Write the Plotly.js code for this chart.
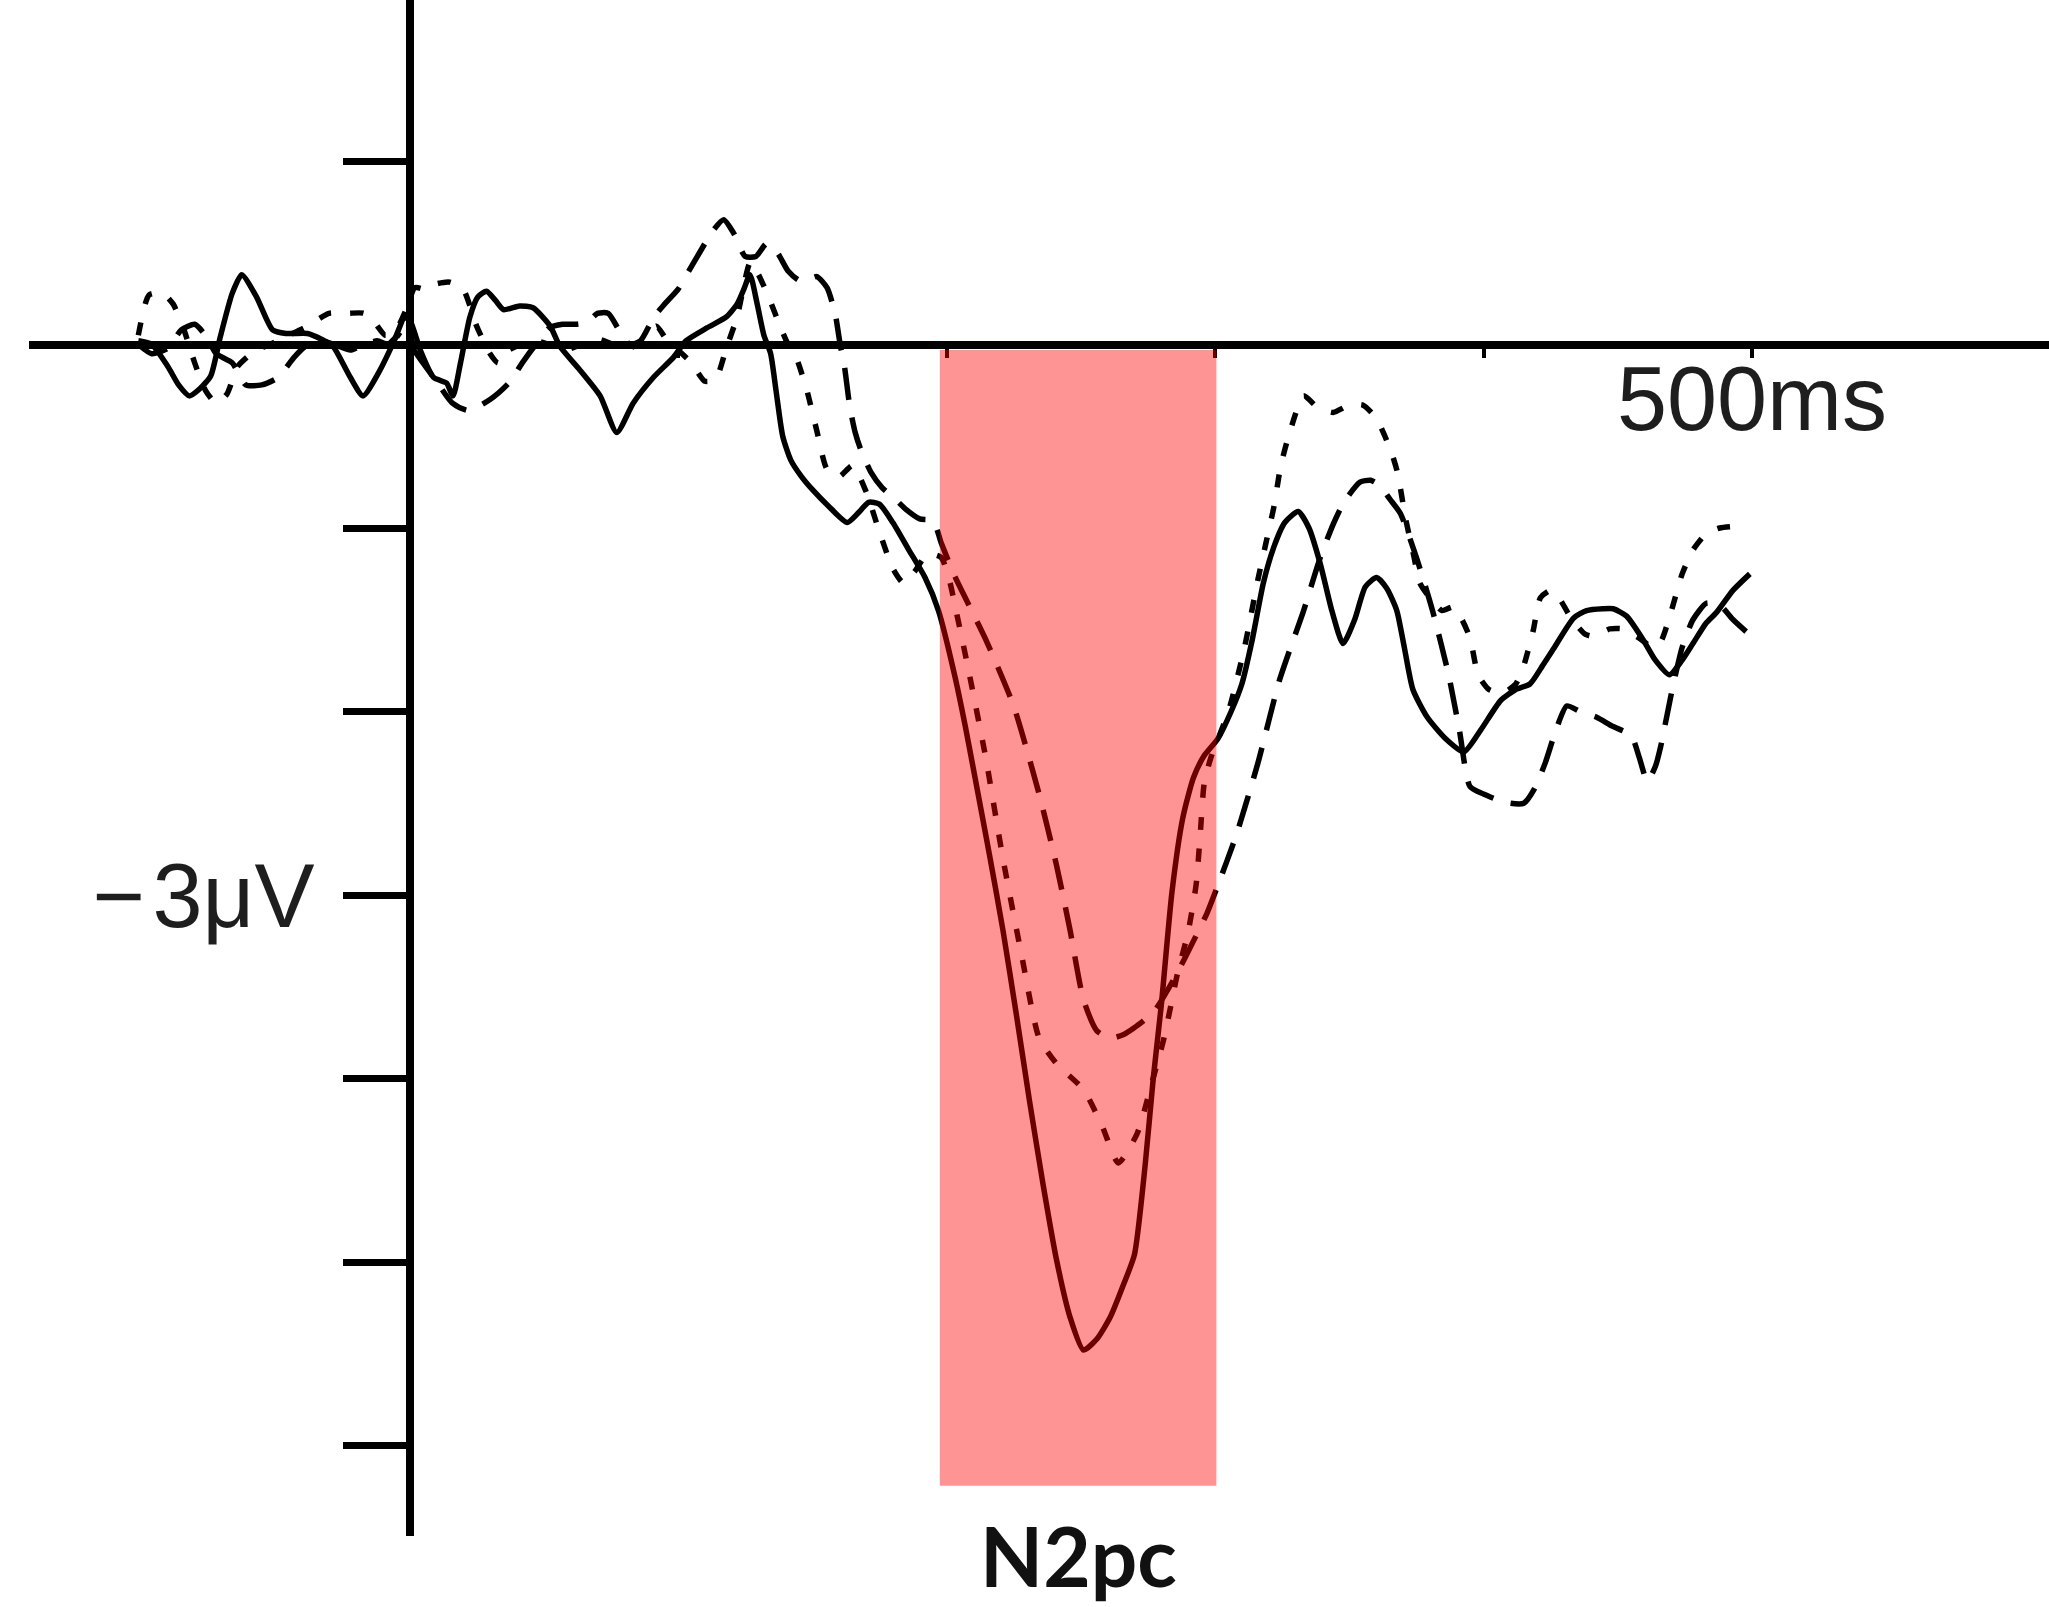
<!DOCTYPE html>
<html>
<head>
<meta charset="utf-8">
<script src="https://cdn.plot.ly/plotly-3.0.1.min.js"></script>
<style>html,body{margin:0;padding:0;background:#fff;}#chart{width:2049px;height:1607px;}</style>
</head>
<body>
<div id="chart"></div>
<script>
// ---- data (time in ms, amplitude in µV) ----
const solidWave = [[-101,0.02],[-96,0.0],[-90,-0.12],[-86,-0.22],[-82,-0.28],[-78,-0.24],[-74,-0.17],[-70.5,0.04],[-66,0.28],[-62.5,0.38],[-57,0.26],[-51,0.08],[-46,0.06],[-38,0.06],[-33,0.03],[-28.5,-0.01],[-22,-0.18],[-17.3,-0.28],[-11,-0.14],[-6,0.01],[-1.7,0.15],[0.5,0.12],[4,-0.03],[9,-0.18],[13.8,-0.21],[16.2,-0.28],[19,-0.1],[22.5,0.15],[25.5,0.26],[28.7,0.29],[32,0.24],[35,0.19],[41,0.21],[46,0.2],[52.4,0.1],[56,-0.01],[63.5,-0.14],[71,-0.28],[77.2,-0.48],[83.3,-0.32],[90.8,-0.18],[98.3,-0.07],[103,0.02],[110.7,0.09],[118,0.15],[122,0.22],[124.5,0.30],[126.8,0.38],[129.5,0.22],[132,0.05],[134.5,-0.05],[136.5,-0.25],[139,-0.5],[142,-0.63],[146,-0.72],[150,-0.79],[156,-0.88],[163,-0.97],[167,-0.92],[171,-0.86],[175,-0.87],[180,-0.97],[186,-1.12],[192,-1.27],[197,-1.45],[203,-1.80],[207,-2.08],[211,-2.39],[216,-2.78],[221,-3.19],[226,-3.65],[231,-4.13],[236,-4.58],[241,-4.99],[246,-5.30],[251,-5.48],[256,-5.42],[261,-5.30],[266,-5.12],[270,-4.96],[274,-4.47],[277,-4.0],[280,-3.60],[284,-2.98],[288,-2.58],[292,-2.36],[296,-2.24],[301,-2.15],[306,-2.0],[310,-1.85],[314,-1.6],[318,-1.3],[322,-1.1],[326,-0.97],[331,-0.91],[335,-1.0],[339.3,-1.2],[343.5,-1.45],[347.7,-1.63],[352,-1.5],[356,-1.32],[360.2,-1.27],[364,-1.33],[367.7,-1.45],[370.5,-1.65],[373.7,-1.88],[379,-2.03],[386,-2.15],[392.7,-2.22],[399,-2.1],[406.4,-1.94],[412,-1.88],[417.3,-1.85],[422,-1.75],[426,-1.66],[433.6,-1.49],[438.4,-1.45],[444.5,-1.44],[448.3,-1.44],[453.3,-1.48],[459.5,-1.61],[464,-1.72],[469.3,-1.80],[474,-1.72],[478,-1.63],[482.8,-1.52],[486.8,-1.46],[492.9,-1.34],[499.2,-1.25]];

const dottedWave = [[-101,0.05],[-97,0.27],[-92,0.28],[-88,0.22],[-84,0.08],[-80,-0.1],[-76,-0.25],[-72,-0.32],[-68,-0.27],[-64,-0.12],[-58,-0.04],[-52,0.0],[-45,0.05],[-38,0.1],[-30,0.17],[-23,0.17],[-17,0.17],[-13,0.12],[-9,0.05],[-5,0.08],[-1,0.2],[2,0.31],[6,0.3],[10,0.33],[15,0.34],[20,0.3],[25,0.1],[30,-0.05],[33,-0.1],[37,-0.03],[42,0.0],[47,0.02],[52,0.0],[58,-0.03],[64,0.0],[70,0.03],[76,0.0],[82,-0.02],[88,0.04],[92,0.1],[96,0.02],[100,-0.03],[105,-0.1],[110,-0.2],[114,-0.19],[118,-0.02],[122,0.15],[127,0.45],[130,0.38],[134,0.25],[138,0.1],[141,0.0],[144,-0.07],[148,-0.25],[151.7,-0.47],[155.5,-0.68],[160,-0.72],[165,-0.66],[170,-0.8],[175,-1.02],[180,-1.22],[184,-1.30],[188,-1.24],[193,-1.14],[198,-1.16],[201,-1.28],[204,-1.48],[208,-1.76],[214.6,-2.25],[221,-2.80],[228,-3.33],[234.5,-3.78],[241,-3.92],[251,-4.06],[258,-4.26],[264,-4.46],[271,-4.30],[276,-4.05],[281,-3.78],[286,-3.43],[290,-3.2],[293,-2.94],[294.5,-2.67],[296,-2.39],[298.5,-2.25],[305,-2.0],[311,-1.65],[316,-1.28],[319,-1.08],[322,-0.88],[324.5,-0.66],[328,-0.47],[333,-0.28],[338,-0.34],[344,-0.37],[350,-0.33],[355,-0.33],[360,-0.40],[363.3,-0.50],[366,-0.6],[368,-0.7],[371,-0.95],[374,-1.15],[376.3,-1.30],[380,-1.38],[384.5,-1.45],[388.7,-1.43],[392,-1.5],[395,-1.6],[398,-1.8],[402,-1.88],[407,-1.9],[412,-1.85],[415,-1.75],[418.5,-1.56],[421.2,-1.38],[425,-1.34],[428.5,-1.39],[433,-1.5],[438,-1.58],[441,-1.59],[447,-1.55],[452,-1.55],[458,-1.6],[463,-1.65],[466,-1.62],[470,-1.45],[474,-1.25],[478,-1.12],[483,-1.03],[488,-1.0],[494.8,-0.99]];

const dashedWave = [[-101,0.0],[-96,-0.05],[-90,-0.02],[-85,0.08],[-80,0.11],[-76,0.05],[-72,-0.05],[-66,-0.1],[-61,-0.22],[-55,-0.22],[-49,-0.18],[-43,-0.07],[-38,0.0],[-33,0.02],[-28,0.0],[-22,-0.03],[-17,0.0],[-12,0.02],[-8,0.0],[-4,0.05],[0,0.0],[5,-0.1],[10,-0.2],[16,-0.32],[22,-0.36],[30,-0.3],[37,-0.21],[42,-0.1],[47,0.0],[52,0.09],[57,0.11],[62,0.11],[66,0.12],[70,0.17],[74,0.17],[78,0.08],[82,0.0],[86,0.02],[91,0.15],[95,0.22],[100,0.3],[104,0.4],[108,0.5],[113,0.62],[117,0.68],[121,0.6],[125,0.48],[129,0.48],[133,0.55],[137,0.5],[141,0.4],[145,0.35],[148,0.35],[151.7,0.37],[155.5,0.31],[158.5,0.17],[160.4,0.0],[162,-0.12],[164,-0.34],[166,-0.48],[168,-0.57],[172,-0.7],[176,-0.78],[180,-0.83],[185,-0.9],[190,-0.95],[195,-0.96],[198,-1.08],[203,-1.26],[208,-1.41],[215,-1.62],[225,-1.97],[234.5,-2.45],[241,-2.84],[246,-3.19],[251,-3.57],[256,-3.74],[261,-3.78],[266,-3.76],[273,-3.69],[278,-3.62],[285,-3.45],[292,-3.25],[297,-3.1],[301,-2.95],[308,-2.67],[316,-2.28],[324,-1.83],[333,-1.45],[339,-1.17],[344,-0.98],[348,-0.86],[354,-0.75],[358,-0.74],[361.5,-0.77],[365,-0.84],[369,-0.92],[375,-1.16],[381,-1.45],[387,-1.80],[391,-2.1],[395,-2.41],[400,-2.45],[405,-2.48],[410,-2.5],[415,-2.50],[419,-2.42],[423,-2.28],[427,-2.1],[431,-1.97],[436,-2.0],[442,-2.03],[448,-2.08],[455,-2.13],[458,-2.25],[461,-2.38],[464,-2.3],[466,-2.19],[470,-1.9],[474,-1.65],[478,-1.5],[483,-1.41],[488,-1.42],[493,-1.5],[499,-1.58]];

const timeTicks = [100, 200, 300, 400, 500];
const timeTickLabels = ['', '', '', '', '500ms'];
const voltTicks = [1, -1, -2, -3, -4, -5, -6];
const voltTickLabels = ['', '', '', '\u2212\u200a3\u03bcV', '', '', ''];
const n2pcWindow = [197.5, 300.5];
const n2pcLabel = 'N2pc';

// ---- layout geometry ----
const W = 2049, H = 1607;
const mL = 29, mR = 0, mT = 0, mB = 71;
const plotW = W - mL - mR, plotH = H - mT - mB;
const xZeroPx = 409.5, pxPerMs = 2.685;      // pixel position of 0 ms, px per ms
const yZeroPx = 344.5, pxPerUv = 183.5;      // pixel position of 0 µV, px per µV
const xRange = [(mL - xZeroPx) / pxPerMs, (W - mR - xZeroPx) / pxPerMs];
const yRange = [-(mT + plotH - yZeroPx) / pxPerUv, (yZeroPx - mT) / pxPerUv];

function trace(wave, dash) {
  return {
    x: wave.map(p => p[0]), y: wave.map(p => p[1]),
    type: 'scatter', mode: 'lines',
    line: {color: '#000', width: 5.5, dash: dash, shape: 'spline', smoothing: 0.6},
    hoverinfo: 'skip', showlegend: false
  };
}

const data = [
  trace(solidWave, 'solid'),
  trace(dottedWave, '13px,19px'),
  trace(dashedWave, '32px,18px')
];

const textFont = {family: 'Liberation Sans, Arial, sans-serif', size: 90, color: '#1e1e1e'};

const layout = {
  width: W, height: H,
  margin: {l: mL, r: mR, t: mT, b: mB, pad: 0},
  paper_bgcolor: '#fff', plot_bgcolor: '#fff',
  showlegend: false,
  xaxis: {
    range: xRange, showgrid: false, showline: false,
    zeroline: true, zerolinecolor: '#000', zerolinewidth: 8,
    anchor: 'free', position: (plotH - (yZeroPx - mT)) / plotH,
    ticks: 'outside', ticklen: 12, tickwidth: 4, tickcolor: '#000',
    tickmode: 'array', tickvals: timeTicks, ticktext: timeTickLabels,
    tickfont: textFont, ticklabelstandoff: -36
  },
  yaxis: {
    range: yRange, showgrid: false, showline: false,
    zeroline: true, zerolinecolor: '#000', zerolinewidth: 8,
    anchor: 'free', position: (xZeroPx - mL) / plotW,
    ticks: 'outside', ticklen: 67, tickwidth: 7, tickcolor: '#000',
    tickmode: 'array', tickvals: voltTicks, ticktext: voltTickLabels,
    tickfont: Object.assign({}, textFont, {size: 90}), ticklabelstandoff: 10
  },
  shapes: [{
    type: 'rect', xref: 'x', yref: 'y', layer: 'above',
    x0: n2pcWindow[0], x1: n2pcWindow[1], y0: -0.03, y1: -6.22,
    fillcolor: 'rgba(255,0,0,0.42)', line: {width: 0}
  }],
  annotations: [{
    text: '<b>' + n2pcLabel + '</b>', showarrow: false,
    xref: 'x', x: (n2pcWindow[0] + n2pcWindow[1]) / 2,
    yref: 'paper', y: -(1555 - plotH) / plotH, yanchor: 'middle', xanchor: 'center',
    font: {family: 'Lato, Open Sans, sans-serif', size: 82, color: '#111'}
  }]
};

Plotly.newPlot('chart', data, layout, {displayModeBar: false, staticPlot: true});
</script>
</body>
</html>
